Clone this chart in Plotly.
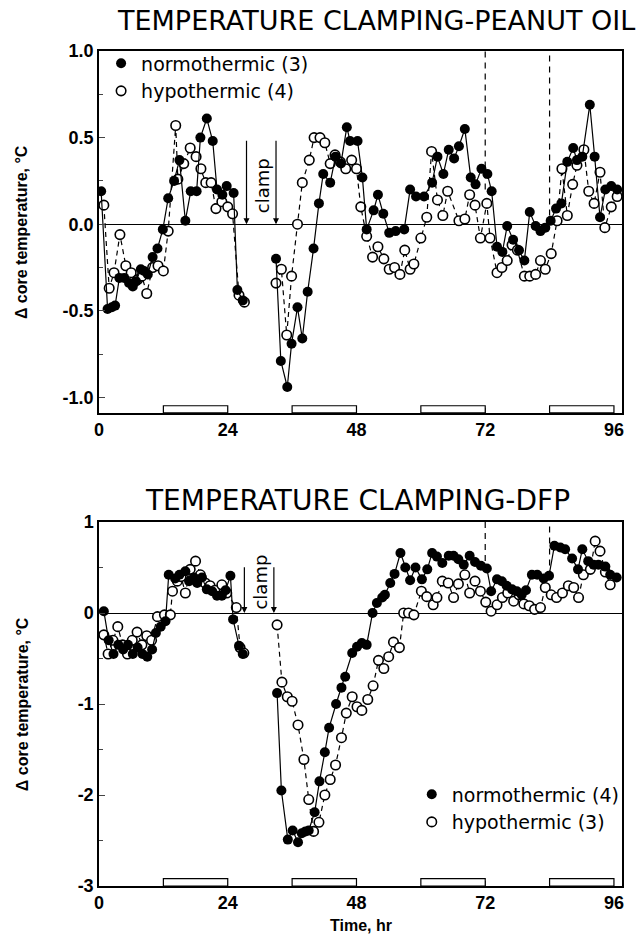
import plotly.graph_objects as go

# ---------------- DATA ----------------
# Top panel: peanut oil
top_norm_t1 = [0.4, 1.6, 2.4, 3.0, 3.8, 4.7, 5.6, 6.3, 6.9, 7.8, 8.4, 9.1, 10.0, 10.9, 11.9, 12.9, 14.0, 15.0,
               16.1, 17.1, 18.2, 18.9, 20.1, 21.2, 22.0, 23.0, 23.8, 25.1, 25.8, 26.8]
top_norm_v1 = [0.19, -0.49, -0.48, -0.47, -0.31, -0.31, -0.34, -0.36, -0.33, -0.26, -0.27, -0.29, -0.19, -0.14,
               -0.03, 0.15, 0.25, 0.37, 0.02, 0.19, 0.19, 0.50, 0.61, 0.48, 0.20, 0.17, 0.22, 0.18, -0.38, -0.44]
top_norm_t2 = [33.0, 33.9, 35.1, 35.9, 37.0, 37.9, 38.9, 40.0, 41.0, 41.8, 43.1, 44.1, 45.1, 46.2, 46.8, 48.2,
               49.1, 49.9, 51.2, 52.0, 53.0, 54.1, 55.3, 56.9, 58.0, 59.1, 60.6, 62.1, 63.1, 64.2, 65.2, 66.2,
               67.1, 68.2, 69.3, 70.2, 71.3, 72.4, 73.2, 74.2, 75.2, 76.1, 77.2, 78.3, 79.3, 80.3, 81.4, 82.3,
               83.2, 84.2, 85.2, 86.2, 87.3, 88.4, 89.1, 90.1, 91.5, 92.4, 93.4, 94.4, 95.5, 96.6]
top_norm_v2 = [-0.20, -0.79, -0.94, -0.69, -0.48, -0.66, -0.39, -0.14, 0.12, 0.29, 0.24, 0.39, 0.35, 0.56, 0.48,
               0.48, 0.27, -0.03, 0.08, 0.17, 0.06, -0.05, -0.04, -0.03, 0.20, 0.16, 0.16, 0.24, 0.39, 0.29, 0.43,
               0.38, 0.45, 0.55, 0.27, 0.23, 0.32, 0.29, 0.19, -0.13, -0.16, -0.01, -0.09, -0.15, -0.21, 0.07,
               -0.01, -0.04, -0.02, 0.02, 0.09, 0.12, 0.36, 0.44, 0.37, 0.39, 0.69, 0.39, 0.04, 0.20, 0.22, 0.20]
top_hypo_t1 = [0.9, 1.9, 2.8, 3.9, 5.0, 6.0, 7.2, 8.0, 8.9, 10.0, 11.0, 12.0, 12.9, 14.3, 14.7, 15.8, 17.0,
               18.1, 19.0, 19.9, 20.9, 21.8, 22.9, 24.0, 24.9, 26.1, 27.1]
top_hypo_v1 = [0.11, -0.37, -0.28, -0.06, -0.24, -0.28, -0.32, -0.30, -0.40, -0.25, -0.24, -0.27, -0.04, 0.57,
               0.26, 0.35, 0.44, 0.39, 0.32, 0.24, 0.24, 0.09, 0.13, 0.10, 0.06, -0.41, -0.45]
top_hypo_t2 = [33.0, 34.0, 35.0, 35.9, 37.0, 37.9, 39.2, 40.1, 41.2, 42.1, 43.1, 44.0, 45.0, 46.0, 47.1, 48.0,
               48.8, 49.9, 51.0, 52.0, 53.1, 54.1, 55.1, 56.1, 57.0, 58.0, 58.7, 60.0, 61.1, 62.0, 63.1, 64.1,
               65.0, 67.1, 68.2, 69.1, 70.1, 71.1, 72.3, 72.9, 74.2, 75.1, 76.1, 77.0, 78.0, 79.3, 80.3, 81.4,
               82.3, 83.2, 84.3, 85.4, 86.3, 87.3, 88.3, 89.1, 90.4, 91.3, 92.3, 93.4, 94.3, 95.5, 96.6]
top_hypo_v2 = [-0.34, -0.26, -0.64, -0.30, 0.00, 0.24, 0.37, 0.50, 0.50, 0.47, 0.35, 0.40, 0.36, 0.32, 0.37,
               0.32, 0.10, -0.07, -0.19, -0.13, -0.20, -0.26, -0.25, -0.29, -0.15, -0.26, -0.23, -0.08, 0.04,
               0.42, 0.14, 0.05, 0.19, 0.02, 0.03, 0.17, 0.11, -0.08, 0.12, -0.08, -0.28, -0.25, -0.21, -0.12,
               -0.15, -0.30, -0.30, -0.29, -0.21, -0.26, -0.17, 0.02, 0.32, 0.05, 0.23, 0.34, 0.43, 0.19, 0.12,
               0.30, -0.02, 0.10, 0.16]

# Bottom panel: DFP
bot_norm_t1 = [0.9, 1.8, 2.7, 3.6, 4.5, 5.4, 6.3, 7.2, 8.1, 9.0, 9.9, 10.6, 11.5, 12.4, 13.0, 14.2, 15.0, 16.1,
               16.8, 17.7, 18.3, 19.2, 20.1, 21.1, 22.0, 22.9, 23.6, 24.5, 25.0, 26.1, 26.8]
bot_norm_v1 = [0.02, -0.30, -0.45, -0.35, -0.40, -0.35, -0.45, -0.38, -0.45, -0.48, -0.40, -0.22, -0.15, -0.09,
               0.42, 0.38, 0.42, 0.46, 0.35, 0.39, 0.33, 0.39, 0.26, 0.24, 0.19, 0.19, 0.25, 0.41, -0.07, -0.36,
               -0.45]
bot_norm_t2 = [33.2, 34.0, 35.2, 36.1, 37.1, 37.8, 38.5, 39.1, 40.2, 41.1, 42.1, 42.9, 44.2, 45.2, 45.9, 47.2,
               48.1, 49.0, 49.9, 51.0, 51.8, 52.8, 53.3, 54.3, 55.1, 56.2, 57.1, 58.0, 59.0, 60.2, 61.2, 62.1,
               63.0, 64.0, 65.2, 66.1, 67.0, 68.0, 69.1, 70.1, 71.2, 72.3, 73.1, 74.2, 75.1, 76.0, 77.0, 77.9,
               78.8, 79.6, 80.7, 81.7, 82.9, 83.9, 84.9, 86.0, 86.9, 88.2, 89.3, 90.1, 91.2, 92.2, 93.1, 94.4,
               95.3, 96.5]
bot_norm_v2 = [-0.88, -1.95, -2.49, -2.39, -2.52, -2.42, -2.40, -2.39, -2.19, -1.85, -1.53, -1.26, -1.00, -0.82,
               -0.70, -0.44, -0.37, -0.33, -0.35, 0.00, 0.11, 0.17, 0.20, 0.33, 0.43, 0.66, 0.50, 0.36, 0.50,
               0.37, 0.48, 0.66, 0.62, 0.55, 0.63, 0.63, 0.59, 0.53, 0.63, 0.56, 0.52, 0.49, 0.24, 0.37, 0.35,
               0.30, 0.26, 0.24, 0.20, 0.25, 0.42, 0.42, 0.38, 0.41, 0.74, 0.72, 0.70, 0.60, 0.48, 0.70, 0.57,
               0.53, 0.53, 0.51, 0.42, 0.39]
bot_hypo_t1 = [0.9, 1.7, 2.6, 3.5, 4.4, 5.3, 6.2, 7.1, 8.0, 8.9, 9.8, 10.9, 12.2, 13.3, 13.7, 14.6, 15.3, 16.1,
               17.0, 18.0, 18.9, 19.8, 20.7, 21.6, 22.9, 23.8, 25.6, 26.3, 27.0]
bot_hypo_v1 = [-0.24, -0.45, -0.30, -0.15, -0.35, -0.45, -0.30, -0.21, -0.35, -0.25, -0.30, -0.04, -0.02, -0.02,
               0.24, 0.35, 0.40, 0.22, 0.48, 0.57, 0.42, 0.33, 0.30, 0.25, 0.31, 0.22, 0.06, -0.38, -0.44]
bot_hypo_t2 = [33.2, 34.1, 35.1, 36.0, 37.1, 38.2, 39.1, 40.0, 41.0, 42.1, 43.1, 44.1, 45.2, 46.1, 47.2, 48.1,
               49.0, 50.1, 51.1, 52.1, 53.1, 54.0, 54.9, 56.0, 56.8, 57.7, 58.7, 60.1, 61.1, 62.3, 63.0, 64.0,
               65.1, 66.1, 67.0, 68.2, 69.1, 70.1, 71.1, 72.1, 73.1, 74.2, 75.2, 76.2, 77.3, 78.3, 79.2, 80.2,
               81.2, 82.3, 83.2, 84.3, 85.3, 86.4, 87.5, 88.5, 89.4, 90.3, 91.6, 92.5, 93.4, 94.4, 95.3]
bot_hypo_v2 = [-0.13, -0.76, -0.92, -0.97, -1.23, -1.61, -2.05, -2.40, -2.30, -2.00, -1.83, -1.67, -1.37, -1.10,
               -0.92, -1.03, -1.07, -0.95, -0.80, -0.52, -0.61, -0.48, -0.32, -0.38, 0.00, 0.00, -0.02, 0.24,
               0.18, 0.09, 0.17, 0.35, 0.33, 0.17, 0.32, 0.42, 0.22, 0.35, 0.24, 0.12, 0.02, 0.09, 0.17, 0.22,
               0.13, 0.20, 0.10, 0.08, 0.04, 0.06, 0.28, 0.20, 0.17, 0.22, 0.30, 0.28, 0.17, 0.42, 0.48, 0.79,
               0.68, 0.45, 0.31]

dark_periods = [(12, 24), (36, 48), (60, 72), (84, 96)]
x_ticks = [0, 24, 48, 72, 96]
top_yticks = [-1.0, -0.5, 0.0, 0.5, 1.0]
top_yticklabels = ["-1.0", "-0.5", "0.0", "0.5", "1.0"]
bot_yticks = [-3, -2, -1, 0, 1]
bot_yticklabels = ["-3", "-2", "-1", "0", "1"]
clamp_top = [27.5, 33.0]
clamp_bot = [27.1, 32.6]
marker_lines = [72, 84]
top_marker_ends = [0.2, 0.05]
bot_marker_ends = [0.45, 0.40]

# ---------------- FIGURE ----------------
def join(t1, v1, t2, v2):
    return t1 + [None] + t2, v1 + [None] + v2

fig = go.Figure()

FILLED = dict(symbol="circle", size=10, color="black", line=dict(width=0))
OPEN = dict(symbol="circle", size=9.5, color="white", line=dict(width=1.6, color="black"))

for (xa, ya, nt1, nv1, nt2, nv2, ht1, hv1, ht2, hv2) in [
    ("x", "y", top_norm_t1, top_norm_v1, top_norm_t2, top_norm_v2, top_hypo_t1, top_hypo_v1, top_hypo_t2, top_hypo_v2),
    ("x2", "y2", bot_norm_t1, bot_norm_v1, bot_norm_t2, bot_norm_v2, bot_hypo_t1, bot_hypo_v1, bot_hypo_t2, bot_hypo_v2),
]:
    hx, hy = join(ht1, hv1, ht2, hv2)
    fig.add_trace(go.Scatter(x=hx, y=hy, mode="lines+markers", xaxis=xa, yaxis=ya, showlegend=False,
                             line=dict(color="black", width=1.2, dash="5px,4px"), marker=OPEN,
                             connectgaps=False))
    nx, ny = join(nt1, nv1, nt2, nv2)
    fig.add_trace(go.Scatter(x=nx, y=ny, mode="lines+markers", xaxis=xa, yaxis=ya, showlegend=False,
                             line=dict(color="black", width=1.2), marker=FILLED, connectgaps=False))

# legend entries
fig.add_trace(go.Scatter(x=[None], y=[None], mode="markers", name="normothermic (3)", marker=FILLED,
                         legend="legend", xaxis="x", yaxis="y"))
fig.add_trace(go.Scatter(x=[None], y=[None], mode="markers", name="hypothermic (4)", marker=OPEN,
                         legend="legend", xaxis="x", yaxis="y"))
fig.add_trace(go.Scatter(x=[None], y=[None], mode="markers", name="normothermic (4)", marker=FILLED,
                         legend="legend2", xaxis="x2", yaxis="y2"))
fig.add_trace(go.Scatter(x=[None], y=[None], mode="markers", name="hypothermic (3)", marker=OPEN,
                         legend="legend2", xaxis="x2", yaxis="y2"))

TICKFONT = dict(family="Liberation Sans", size=18, color="black", weight="bold")
xcommon = dict(range=[0, 97.5], tickvals=x_ticks, ticks="inside", ticklen=5, tickwidth=1.2, showline=True,
               mirror=True, linecolor="black", linewidth=1.5, showgrid=False, zeroline=False, tickfont=TICKFONT)
ycommon = dict(ticks="inside", ticklen=6, tickwidth=1.2, showline=True, mirror=True, linecolor="black",
               linewidth=1.5, showgrid=False, zeroline=True, zerolinecolor="black", zerolinewidth=1,
               tickfont=TICKFONT, tickmode="array")

shapes = []
for ax, ydom in [("x", "y domain"), ("x2", "y2 domain")]:
    for a, b in dark_periods:
        shapes.append(dict(type="rect", xref=ax, yref=ydom, x0=a, x1=b, y0=0, y1=0.02,
                           fillcolor="white", line=dict(color="black", width=1.2), layer="above"))
for xv, ye in zip(marker_lines, top_marker_ends):
    shapes.append(dict(type="line", xref="x", yref="y", x0=xv, x1=xv, y0=ye, y1=1.0,
                       line=dict(color="black", width=1.2, dash="6px,5px")))
for xv, ye in zip(marker_lines, bot_marker_ends):
    shapes.append(dict(type="line", xref="x2", yref="y2", x0=xv, x1=xv, y0=ye, y1=1.0,
                       line=dict(color="black", width=1.2, dash="6px,5px")))

ann = []
ann.append(dict(text="TEMPERATURE CLAMPING-PEANUT OIL", xref="paper", yref="paper", x=0.53, y=1.037,
                xanchor="center", yanchor="middle",
                showarrow=False, font=dict(family="DejaVu Sans", size=27, color="black")))
ann.append(dict(text="TEMPERATURE CLAMPING-DFP", xref="paper", yref="paper", x=0.494, y=0.462,
                xanchor="center", yanchor="middle",
                showarrow=False, font=dict(family="DejaVu Sans", size=28, color="black")))
for yd in ["y domain", "y2 domain"]:
    ann.append(dict(text="Δ core temperature, °C", xref="paper", yref=yd, x=-0.147, y=0.5, textangle=-90,
                    xanchor="center", yanchor="middle",
                    showarrow=False, font=dict(family="Liberation Sans", size=16, color="black", weight="bold")))
ann.append(dict(text="Time, hr", xref="paper", yref="paper", x=0.5, y=-0.047, showarrow=False,
                xanchor="center", yanchor="middle",
                font=dict(family="Liberation Sans", size=16, color="black", weight="bold")))
for xv in clamp_top:
    ann.append(dict(text="", xref="x", yref="y", x=xv, y=0.0, axref="x", ayref="y", ax=xv, ay=0.49,
                    showarrow=True, arrowhead=2, arrowsize=1, arrowwidth=1.2, arrowcolor="black"))
for xv in clamp_bot:
    ann.append(dict(text="", xref="x2", yref="y2", x=xv, y=0.0, axref="x2", ayref="y2", ax=xv, ay=0.52,
                    showarrow=True, arrowhead=2, arrowsize=1, arrowwidth=1.2, arrowcolor="black"))
ann.append(dict(text="clamp", xref="x", yref="y", x=30.4, y=0.22, textangle=-90, showarrow=False,
                xanchor="center", yanchor="middle",
                font=dict(family="DejaVu Sans", size=18, color="black")))
ann.append(dict(text="clamp", xref="x2", yref="y2", x=30.1, y=0.34, textangle=-90, showarrow=False,
                xanchor="center", yanchor="middle",
                font=dict(family="DejaVu Sans", size=18, color="black")))

LEGFONT = dict(family="DejaVu Sans", size=19, color="black")
fig.update_layout(
    width=637, height=943,
    margin=dict(l=99, r=15, t=51, b=57),
    paper_bgcolor="white", plot_bgcolor="white",
    xaxis=dict(domain=[0, 1], anchor="y", **xcommon),
    yaxis=dict(domain=[0.5665, 1.0], anchor="x", range=[-1.09, 1.0], tickvals=top_yticks,
               ticktext=top_yticklabels,
               minor=dict(tickmode="linear", tick0=0, dtick=0.25, ticks="inside", ticklen=4), **ycommon),
    xaxis2=dict(domain=[0, 1], anchor="y2", **xcommon),
    yaxis2=dict(domain=[0.0, 0.4359], anchor="x2", range=[-3, 1.0], tickvals=bot_yticks,
                ticktext=bot_yticklabels,
                minor=dict(tickmode="linear", tick0=0, dtick=0.5, ticks="inside", ticklen=4), **ycommon),
    legend=dict(x=0.004, y=1.008, xanchor="left", yanchor="top", bgcolor="rgba(0,0,0,0)", font=LEGFONT,
                tracegroupgap=0, itemwidth=30),
    legend2=dict(x=0.598, y=0.1325, xanchor="left", yanchor="top", bgcolor="rgba(0,0,0,0)", font=LEGFONT,
                 tracegroupgap=0, itemwidth=30),
    shapes=shapes, annotations=ann, showlegend=True,
)

fig.write_html("out.html")
